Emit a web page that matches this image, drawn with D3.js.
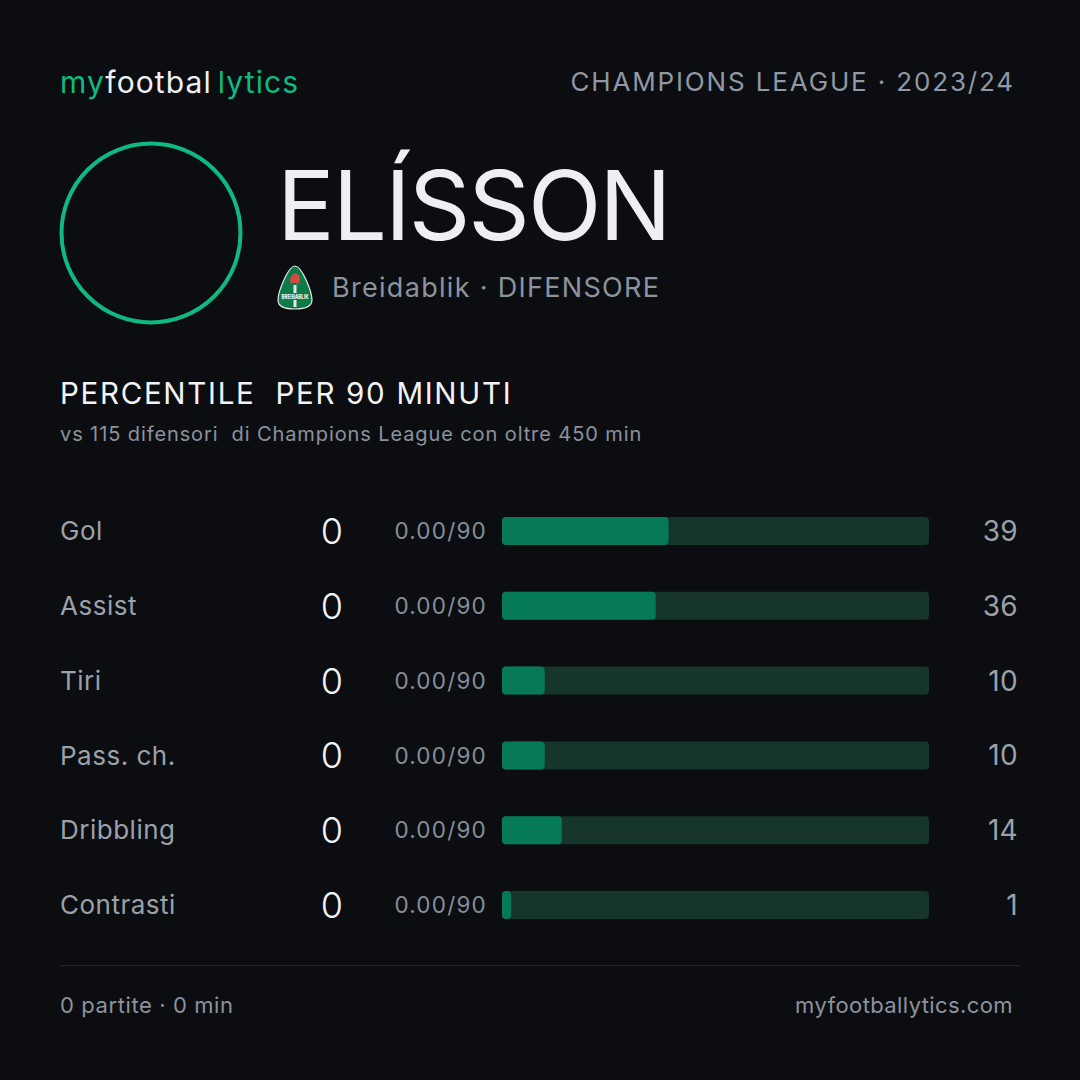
<!DOCTYPE html>
<html>
<head>
<meta charset="utf-8">
<script src="https://cdn.jsdelivr.net/npm/d3@7"></script>
<style>
  html, body { margin: 0; padding: 0; background: #0b0d11; }
  svg { display: block; }
  text { font-family: Inter, "Noto Sans", sans-serif; }
</style>
</head>
<body>
<svg id="chart" width="1080" height="1080"></svg>
<script>
const metrics = ["Gol", "Assist", "Tiri", "Pass. ch.", "Dribbling", "Contrasti"];
const totals = [0, 0, 0, 0, 0, 0];
const per90 = ["0.00/90", "0.00/90", "0.00/90", "0.00/90", "0.00/90", "0.00/90"];
const percentiles = [39, 36, 10, 10, 14, 1];

const playerName = "ELÍSSON";
const teamLine = "Breidablik · DIFENSORE";
const competition = "CHAMPIONS LEAGUE · 2023/24";
const title = "PERCENTILE  PER 90 MINUTI";
const subtitle = "vs 115 difensori  di Champions League con oltre 450 min";
const footerLeft = "0 partite · 0 min";
const footerRight = "myfootballytics.com";

const svg = d3.select("#chart");
const W = 1080, H = 1080;
const GREEN = "#10b981";

svg.append("rect").attr("width", W).attr("height", H).attr("fill", "#0b0d11");

// Brand
const brand = svg.append("text").attr("x", 60).attr("y", 93)
  .attr("font-size", 30).attr("font-weight", 400).attr("letter-spacing", 1.1);
brand.append("tspan").attr("fill", GREEN).text("my");
brand.append("tspan").attr("fill", "#eef0f3").text("footbal");
brand.append("tspan").attr("fill", GREEN).attr("dx", 6).text("lytics");

svg.append("text").attr("x", 1015).attr("y", 91).attr("text-anchor", "end")
  .attr("font-size", 26).attr("letter-spacing", 1.85).attr("fill", "#8f98a4")
  .text(competition);

// Avatar circle
svg.append("circle").attr("cx", 151).attr("cy", 233).attr("r", 89.5)
  .attr("fill", "none").attr("stroke", GREEN).attr("stroke-width", 4);

// Name
svg.append("text").attr("x", 277).attr("y", 240).attr("font-size", 96)
  .attr("fill", "#eeeff3").attr("font-weight", 400).attr("letter-spacing", -2).text(playerName);

// Team crest
const crest = svg.append("g").attr("transform", "translate(278,266)");
crest.append("path")
  .attr("d", "M17,0 C24,0 34,26 34,34 C34,41 27,43 17,43 C7,43 0,41 0,34 C0,26 10,0 17,0 Z")
  .attr("fill", "#0d7a4a").attr("stroke", "#e8e8e8").attr("stroke-width", 1.2);
crest.append("path").attr("d", "M17,7 C23,9 23,15 19.5,19 C18.5,16 16,15.5 13.5,18 C11,14 12.5,9.5 17,7 Z").attr("fill", "#e0463c");
crest.append("rect").attr("x", 15.5).attr("y", 19).attr("width", 3).attr("height", 22).attr("fill", "#e8e8e8");
crest.append("rect").attr("x", 3).attr("y", 27).attr("width", 28).attr("height", 7).attr("fill", "#0d7a4a");
crest.append("text").attr("x", 17).attr("y", 33).attr("text-anchor", "middle")
  .attr("font-size", 6.5).attr("font-weight", 700).attr("fill", "#ffffff")
  .attr("textLength", 27).attr("lengthAdjust", "spacingAndGlyphs").text("BREIÐABLIK");

svg.append("text").attr("x", 332).attr("y", 297).attr("font-size", 27)
  .attr("fill", "#8b939e").attr("letter-spacing", 1.3).text(teamLine);

// Section title
svg.append("text").attr("x", 60).attr("y", 404).attr("font-size", 29.5)
  .attr("fill", "#f2f3f5").attr("letter-spacing", 1.7).attr("xml:space", "preserve").text(title);
svg.append("text").attr("x", 60).attr("y", 441).attr("font-size", 20)
  .attr("fill", "#8b939e").attr("letter-spacing", 0.9).attr("xml:space", "preserve").text(subtitle);

// Rows
const y = d3.scalePoint().domain(metrics).range([531, 905]);
const x = d3.scaleLinear().domain([0, 100]).range([502, 929]);
const barH = 28;

const rows = svg.append("g").selectAll("g").data(metrics).join("g")
  .attr("transform", d => `translate(0,${y(d)})`);

rows.append("text").attr("x", 60).attr("dy", "0.35em").attr("font-size", 26)
  .attr("letter-spacing", 0.5).attr("fill", "#9aa1aa").text(d => d);

rows.append("text").attr("x", 343).attr("dy", "0.36em").attr("text-anchor", "end")
  .attr("font-size", 36).attr("font-weight", 300).attr("fill", "#f2f3f5").text((d, i) => totals[i]);

rows.append("text").attr("x", 487).attr("dy", "0.36em").attr("text-anchor", "end")
  .attr("font-size", 22.5).attr("letter-spacing", 1.2).attr("fill", "#858d98").text((d, i) => per90[i]);

rows.append("rect").attr("x", x(0)).attr("y", -barH / 2)
  .attr("width", x(100) - x(0)).attr("height", barH).attr("rx", 4)
  .attr("fill", "#16352b");

rows.append("rect").attr("x", x(0)).attr("y", -barH / 2)
  .attr("width", (d, i) => Math.max(x(percentiles[i]) - x(0), 9)).attr("height", barH).attr("rx", 4)
  .attr("fill", "#067a56");

rows.append("text").attr("x", 1018).attr("dy", "0.36em").attr("text-anchor", "end")
  .attr("font-size", 28).attr("letter-spacing", 0.3).attr("fill", "#9aa1aa").text((d, i) => percentiles[i]);

// Divider & footer
svg.append("line").attr("x1", 60).attr("x2", 1020).attr("y1", 965.5).attr("y2", 965.5)
  .attr("stroke", "#23262e").attr("stroke-width", 1);

svg.append("text").attr("x", 60).attr("y", 1013).attr("font-size", 22)
  .attr("letter-spacing", 0.6).attr("fill", "#8b939e").text(footerLeft);
svg.append("text").attr("x", 1013).attr("y", 1013).attr("text-anchor", "end")
  .attr("font-size", 22).attr("letter-spacing", 0.4).attr("fill", "#8b939e").text(footerRight);
</script>
</body>
</html>
